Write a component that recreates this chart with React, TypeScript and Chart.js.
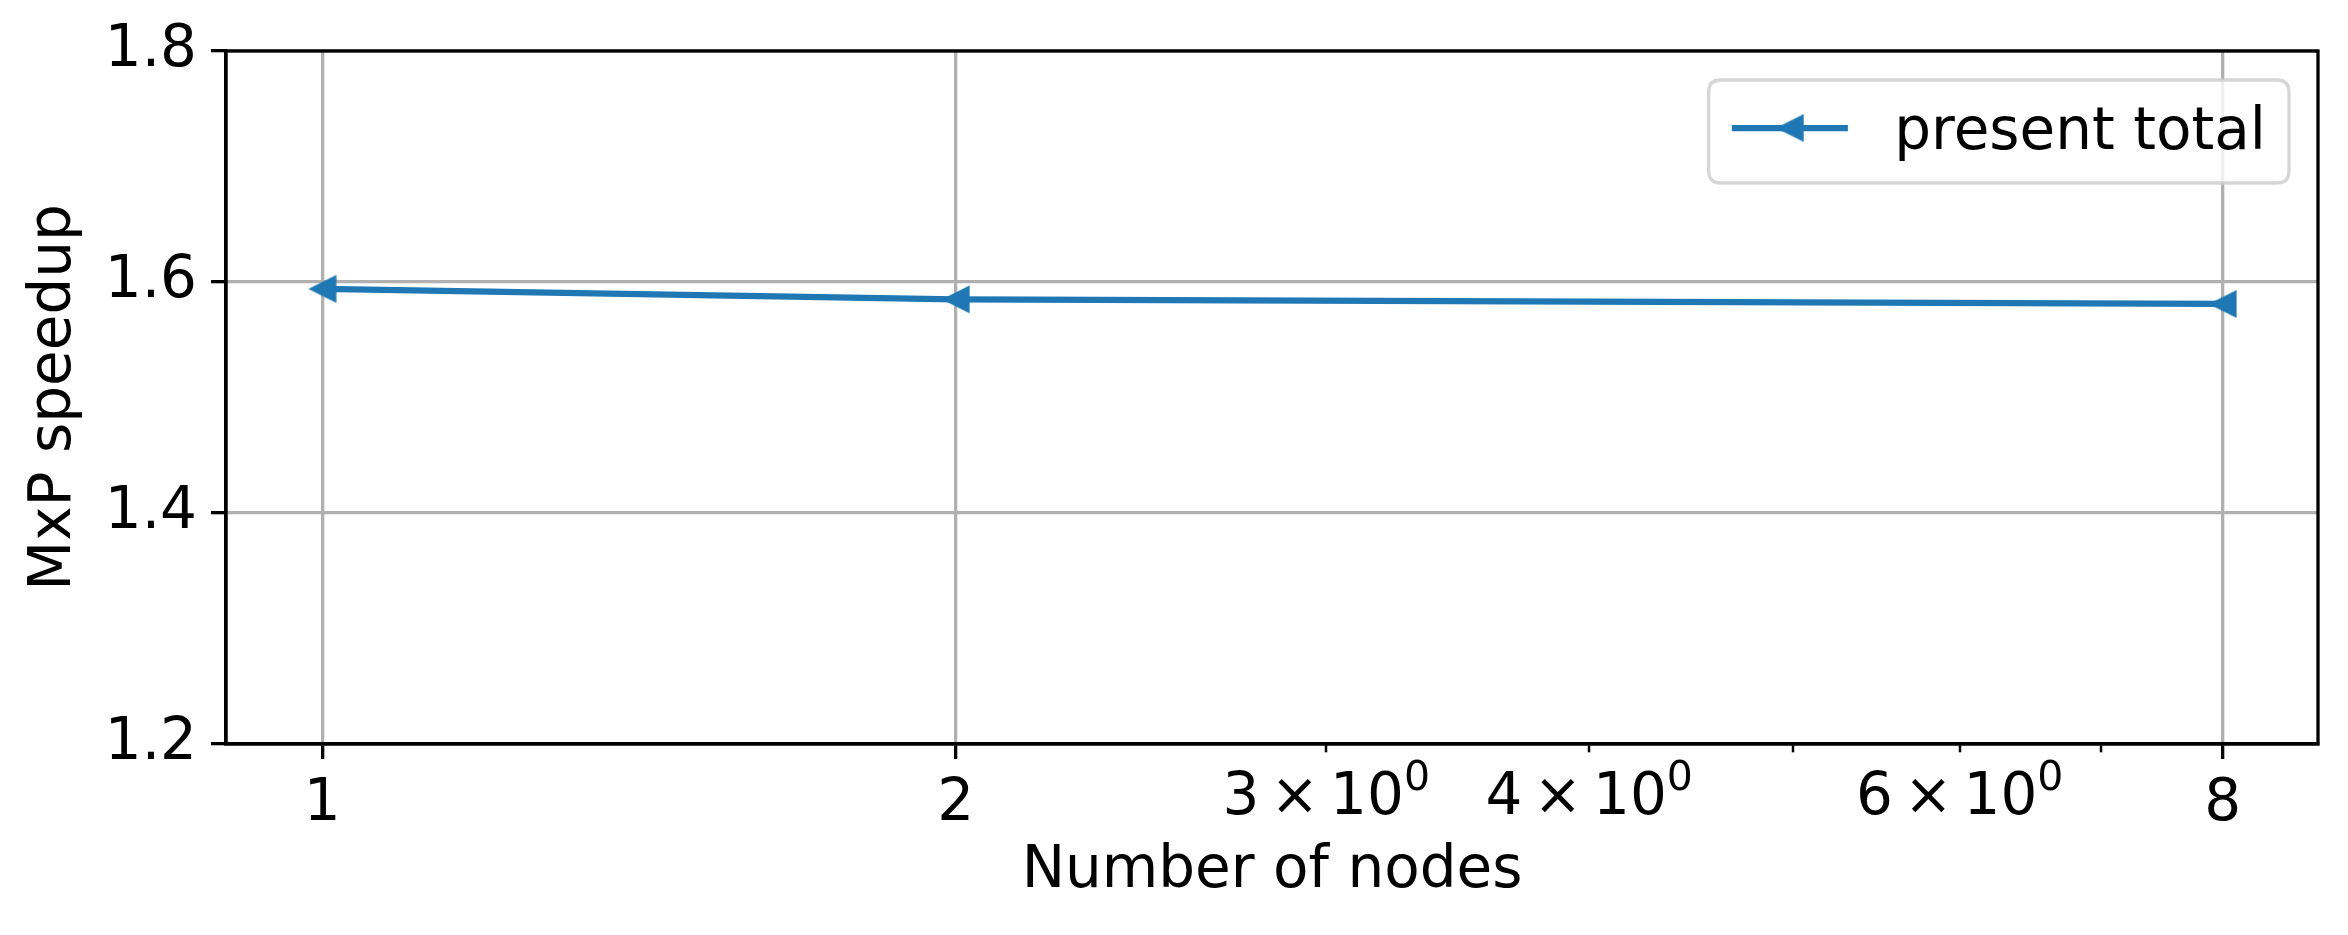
import React, { useEffect, useRef } from 'react';
import { Chart, registerables } from 'chart.js';

Chart.register(...registerables);

// ---- data ----
const nodes = [1, 2, 8];
const speedup = [1.594, 1.585, 1.581];
const seriesLabel = 'present total';
const xTickValues = [1, 2, 3, 4, 5, 6, 7, 8];
const xTickLabels = ['1', '2', '3×10^0', '4×10^0', '', '6×10^0', '', '8'];
const xMajorTicks = [1, 2, 8];
const yTickValues = [1.2, 1.4, 1.6, 1.8];
const yTickLabels = ['1.2', '1.4', '1.6', '1.8'];
const xRange = [0.9, 8.88];
const yRange = [1.2, 1.8];
const xTitle = 'Number of nodes';
const yTitle = 'MxP speedup';

const FONT = '"DejaVu Sans", sans-serif';
const FS = 58;
const BLUE = '#1f77b4';
const GRID = '#b0b0b0';
const W = 2348;
const H = 935;

function makeMarker(size: number, color: string) {
  const c = document.createElement('canvas');
  c.width = size;
  c.height = size;
  const g = c.getContext('2d')!;
  g.fillStyle = color;
  g.beginPath();
  g.moveTo(0.5, size / 2);
  g.lineTo(size - 0.5, 0.5);
  g.lineTo(size - 0.5, size - 0.5);
  g.closePath();
  g.fill();
  return c;
}

const isMath = (s: string) => s.includes('^');

export default function App() {
  const ref = useRef<HTMLCanvasElement | null>(null);

  useEffect(() => {
    if (!ref.current) return;
    const marker = makeMarker(29, BLUE);

    const framePlugin = {
      id: 'frame',
      afterDatasetsDraw(chart: any) {
        const { ctx, chartArea: a, scales } = chart;
        ctx.save();
        const xs = scales.x;
        // minor ticks on x
        ctx.strokeStyle = '#000';
        ctx.lineWidth = 2.5;
        xTickValues.forEach((v) => {
          if (xMajorTicks.includes(v)) return;
          const px = Math.round(xs.getPixelForValue(v));
          ctx.beginPath();
          ctx.moveTo(px, a.bottom);
          ctx.lineTo(px, a.bottom + 8.3);
          ctx.stroke();
        });
        // mathtext-style minor labels (mantissa × base^exp)
        ctx.fillStyle = '#000';
        ctx.textBaseline = 'alphabetic';
        ctx.textAlign = 'left';
        const big = `${FS}px ${FONT}`;
        const small = `${Math.round(FS * 0.7)}px ${FONT}`;
        const sp = 11;
        xTickValues.forEach((v, i) => {
          const lab = xTickLabels[i];
          if (!lab || !isMath(lab)) return;
          const [base, exp] = lab.split('^');
          const [mant, pow] = base.split('×');
          ctx.font = big;
          const wM = ctx.measureText(mant).width;
          const wX = ctx.measureText('×').width;
          const wP = ctx.measureText(pow).width;
          ctx.font = small;
          const wE = ctx.measureText(exp).width;
          const total = wM + sp + wX + sp + wP + wE;
          const px = xs.getPixelForValue(v);
          const bl = a.bottom + 70;
          let x = px - total / 2;
          ctx.font = big;
          ctx.fillText(mant, x, bl);
          x += wM + sp;
          ctx.fillText('×', x, bl);
          x += wX + sp;
          ctx.fillText(pow, x, bl);
          x += wP;
          ctx.font = small;
          ctx.fillText(exp, x, bl - 24);
        });
        // spines
        ctx.lineWidth = 3.3;
        ctx.strokeStyle = '#000';
        ctx.strokeRect(a.left, a.top, a.right - a.left, a.bottom - a.top);
        ctx.restore();
      },
    };

    const legendPlugin = {
      id: 'mplLegend',
      afterDraw(chart: any) {
        const { ctx, chartArea: a } = chart;
        const label = chart.data.datasets[0].label as string;
        ctx.save();
        ctx.font = `${FS}px ${FONT}`;
        const tw = ctx.measureText(label).width;
        const pad = 0.4 * FS;
        const handle = 2.0 * FS;
        const gap = 0.8 * FS;
        const bw = pad + handle + gap + tw + pad;
        const bh = 103;
        const right = a.right - 0.5 * FS;
        const top = a.top + 0.5 * FS;
        const left = right - bw;
        const r = 12;
        ctx.beginPath();
        ctx.moveTo(left + r, top);
        ctx.lineTo(right - r, top);
        ctx.quadraticCurveTo(right, top, right, top + r);
        ctx.lineTo(right, top + bh - r);
        ctx.quadraticCurveTo(right, top + bh, right - r, top + bh);
        ctx.lineTo(left + r, top + bh);
        ctx.quadraticCurveTo(left, top + bh, left, top + bh - r);
        ctx.lineTo(left, top + r);
        ctx.quadraticCurveTo(left, top, left + r, top);
        ctx.closePath();
        ctx.fillStyle = 'rgba(255,255,255,0.8)';
        ctx.fill();
        ctx.lineWidth = 3.3;
        ctx.strokeStyle = 'rgba(204,204,204,0.8)';
        ctx.stroke();
        // handle
        const hy = top + 48;
        const hx0 = left + pad;
        ctx.strokeStyle = BLUE;
        ctx.lineWidth = 6.25;
        ctx.beginPath();
        ctx.moveTo(hx0, hy);
        ctx.lineTo(hx0 + handle, hy);
        ctx.stroke();
        const mx = hx0 + handle / 2;
        ctx.drawImage(marker, mx - marker.width / 2, hy - marker.height / 2);
        // text
        ctx.fillStyle = '#000';
        ctx.textBaseline = 'alphabetic';
        ctx.textAlign = 'left';
        ctx.fillText(label, hx0 + handle + gap, top + 69);
        ctx.restore();
      },
    };

    const chart = new Chart(ref.current, {
      type: 'line',
      data: {
        datasets: [
          {
            label: seriesLabel,
            data: nodes.map((n, i) => ({ x: n, y: speedup[i] })),
            borderColor: BLUE,
            backgroundColor: BLUE,
            borderWidth: 6.25,
            pointStyle: marker as any,
            pointRadius: 14,
            pointHoverRadius: 14,
            tension: 0,
            fill: false,
          },
        ],
      },
      options: {
        responsive: false,
        animation: false,
        devicePixelRatio: 1,
        events: [],
        layout: { padding: { top: 51, right: 30, left: 0, bottom: 0 } },
        plugins: {
          legend: { display: false },
          tooltip: { enabled: false },
          title: { display: false },
        },
        scales: {
          x: {
            type: 'logarithmic',
            min: xRange[0],
            max: xRange[1],
            afterBuildTicks: (scale: any) => {
              scale.ticks = xTickValues.map((v) => ({ value: v, major: false }));
            },
            afterFit: (scale: any) => {
              scale.height = 191;
            },
            ticks: {
              autoSkip: false,
              maxRotation: 0,
              minRotation: 0,
              padding: 11,
              color: '#000',
              font: { family: FONT, size: FS },
              callback: (value: any) => {
                const i = xTickValues.indexOf(Number(value));
                const lab = i >= 0 ? xTickLabels[i] : '';
                return isMath(lab) ? '' : lab;
              },
            },
            grid: {
              display: true,
              drawOnChartArea: true,
              drawTicks: true,
              tickLength: 15,
              lineWidth: 3.3,
              tickWidth: 3.3,
              color: (ctx: any) =>
                ctx.tick && xMajorTicks.includes(ctx.tick.value) ? GRID : 'rgba(0,0,0,0)',
              tickColor: (ctx: any) =>
                ctx.tick && xMajorTicks.includes(ctx.tick.value) ? '#000' : 'rgba(0,0,0,0)',
            },
            border: { display: true, color: '#000', width: 3.3 },
            title: {
              display: true,
              text: xTitle,
              color: '#000',
              font: { family: FONT, size: FS },
              padding: { top: 0, bottom: 28 },
            },
          },
          y: {
            type: 'linear',
            min: yRange[0],
            max: yRange[1],
            afterBuildTicks: (scale: any) => {
              scale.ticks = yTickValues.map((v) => ({ value: v }));
            },
            afterFit: (scale: any) => {
              scale.width = 226;
            },
            ticks: {
              padding: 14,
              color: '#000',
              font: { family: FONT, size: FS },
              callback: (value: any) => {
                const i = yTickValues.findIndex((t) => Math.abs(t - Number(value)) < 1e-9);
                return i >= 0 ? yTickLabels[i] : '';
              },
            },
            grid: {
              display: true,
              tickLength: 15,
              lineWidth: 3.3,
              tickWidth: 3.3,
              color: GRID,
              tickColor: '#000',
            },
            border: { display: true, color: '#000', width: 3.3 },
            title: {
              display: true,
              text: yTitle,
              color: '#000',
              font: { family: FONT, size: FS },
              padding: { top: 20, bottom: 0 },
            },
          },
        },
      },
      plugins: [framePlugin, legendPlugin],
    } as any);

    return () => chart.destroy();
  }, []);

  return (
    <div style={{ position: 'fixed', left: 0, top: 0, width: W, height: H, background: '#fff' }}>
      <canvas ref={ref} width={W} height={H} style={{ width: W, height: H, display: 'block' }} />
    </div>
  );
}
